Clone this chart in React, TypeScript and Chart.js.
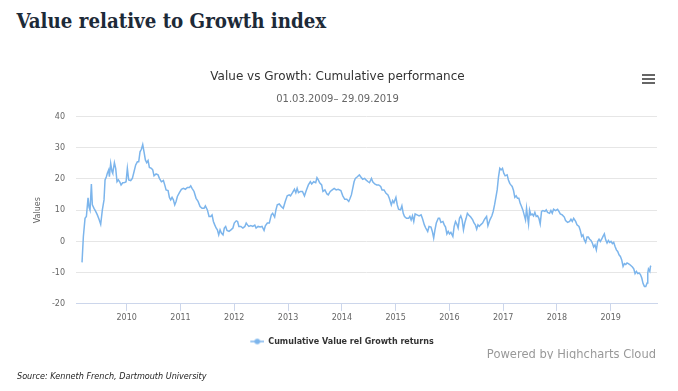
import React, { useEffect, useRef } from "react";
import { Chart, registerables } from "chart.js";

Chart.register(...registerables);

const pageTitle = "Value relative to Growth index";
const chartTitle = "Value vs Growth: Cumulative performance";
const chartSubtitle = "01.03.2009\u2013 29.09.2019";
const seriesName = "Cumulative Value rel Growth returns";
const axisTitle = "Values";
const sourceText = "Source: Kenneth French, Dartmouth University";
const creditText = "Powered by Highcharts Cloud";

const yearTicks = [2010, 2011, 2012, 2013, 2014, 2015, 2016, 2017, 2018, 2019];
const valueTicks = [-20, -10, 0, 10, 20, 30, 40];

const dates = [
  2009.169, 2009.194, 2009.225, 2009.25, 2009.281, 2009.299, 2009.318, 2009.343, 2009.361, 2009.392,
  2009.423, 2009.454, 2009.485, 2009.516, 2009.547, 2009.578, 2009.597, 2009.622, 2009.64, 2009.665,
  2009.678, 2009.702, 2009.727, 2009.74, 2009.771, 2009.795, 2009.82, 2009.845, 2009.87, 2009.895,
  2009.926, 2009.963, 2009.988, 2010.012, 2010.037, 2010.074, 2010.105, 2010.136, 2010.167, 2010.198,
  2010.223, 2010.248, 2010.273, 2010.298, 2010.322, 2010.347, 2010.372, 2010.397, 2010.422, 2010.459,
  2010.484, 2010.508, 2010.546, 2010.583, 2010.608, 2010.645, 2010.682, 2010.707, 2010.732, 2010.769,
  2010.794, 2010.818, 2010.843, 2010.868, 2010.893, 2010.918, 2010.942, 2010.98, 2011.017, 2011.054,
  2011.091, 2011.128, 2011.166, 2011.19, 2011.215, 2011.252, 2011.29, 2011.327, 2011.364, 2011.401,
  2011.438, 2011.463, 2011.5, 2011.531, 2011.562, 2011.587, 2011.612, 2011.637, 2011.662, 2011.686,
  2011.711, 2011.736, 2011.761,
  2011.791, 2011.815, 2011.84, 2011.865, 2011.902, 2011.938, 2011.975, 2012.0, 2012.037, 2012.062,
  2012.086, 2012.123, 2012.16, 2012.197, 2012.222, 2012.246, 2012.271, 2012.308, 2012.345, 2012.382,
  2012.406, 2012.443, 2012.48, 2012.517, 2012.554, 2012.578, 2012.615, 2012.652, 2012.689, 2012.714,
  2012.751, 2012.775, 2012.8, 2012.837, 2012.874, 2012.911, 2012.948, 2012.985, 2013.022, 2013.046,
  2013.083, 2013.12, 2013.145, 2013.169, 2013.194, 2013.231, 2013.268, 2013.305, 2013.342, 2013.378,
  2013.415, 2013.44, 2013.477, 2013.514, 2013.538, 2013.563, 2013.588, 2013.625, 2013.649, 2013.686,
  2013.723, 2013.748, 2013.785, 2013.822, 2013.858, 2013.895, 2013.932, 2013.982, 2014.018, 2014.055,
  2014.092, 2014.129, 2014.154, 2014.178, 2014.203, 2014.228, 2014.252, 2014.289, 2014.326, 2014.351,
  2014.388, 2014.425, 2014.449,
  2014.489, 2014.514, 2014.551, 2014.575, 2014.612, 2014.649, 2014.686, 2014.723, 2014.748, 2014.785,
  2014.822, 2014.858, 2014.883, 2014.92, 2014.945, 2014.969, 2015.006, 2015.031, 2015.055, 2015.092,
  2015.117, 2015.142, 2015.166, 2015.203, 2015.24, 2015.265, 2015.289, 2015.314, 2015.338, 2015.363,
  2015.4, 2015.437, 2015.474, 2015.498, 2015.535, 2015.56, 2015.597, 2015.622, 2015.658, 2015.683,
  2015.708, 2015.732, 2015.757, 2015.794, 2015.818, 2015.843, 2015.88, 2015.905, 2015.929, 2015.954,
  2015.978, 2016.003, 2016.028, 2016.065, 2016.089, 2016.114, 2016.138, 2016.163, 2016.188, 2016.212,
  2016.237, 2016.262, 2016.286, 2016.311, 2016.335, 2016.36, 2016.397, 2016.434, 2016.458, 2016.483,
  2016.508, 2016.532, 2016.557, 2016.582, 2016.618, 2016.655, 2016.692, 2016.717, 2016.754, 2016.791,
  2016.815, 2016.84, 2016.865, 2016.889, 2016.914, 2016.938, 2016.963, 2016.988, 2017.012, 2017.037,
  2017.074, 2017.098, 2017.123,
  2017.143, 2017.168, 2017.193, 2017.217, 2017.242, 2017.267, 2017.292, 2017.317, 2017.342, 2017.366,
  2017.391, 2017.416, 2017.435, 2017.453, 2017.472, 2017.491, 2017.516, 2017.54, 2017.565, 2017.59,
  2017.615, 2017.64, 2017.665, 2017.689, 2017.714, 2017.739, 2017.776, 2017.801, 2017.826, 2017.863,
  2017.888, 2017.913, 2017.938, 2017.975, 2018.012, 2018.037, 2018.062, 2018.099, 2018.137, 2018.161,
  2018.199, 2018.236, 2018.261, 2018.286, 2018.311, 2018.348, 2018.373, 2018.41, 2018.435, 2018.46,
  2018.484, 2018.509, 2018.534, 2018.559, 2018.584, 2018.609, 2018.634, 2018.658, 2018.683, 2018.708,
  2018.733, 2018.758, 2018.783, 2018.807, 2018.832, 2018.857, 2018.882, 2018.907, 2018.932, 2018.957,
  2018.981, 2019.006, 2019.031, 2019.056, 2019.081, 2019.106, 2019.13, 2019.155, 2019.18, 2019.205,
  2019.23, 2019.255, 2019.28, 2019.304, 2019.329, 2019.354, 2019.379, 2019.404, 2019.429, 2019.453,
  2019.478, 2019.503, 2019.528, 2019.553, 2019.578, 2019.602, 2019.627, 2019.652, 2019.677, 2019.689,
  2019.702, 2019.727, 2019.739, 2019.751,
];

const values = [
  -6.7, 1.6, 7.4, 8.0, 14.0, 11.0, 10.0, 18.4, 11.7, 10.6,
  9.6, 8.5, 7.1, 5.5, 10.1, 13.3, 19.7, 20.7, 21.8, 22.9,
  20.7, 25.0, 22.3, 21.8, 25.2, 23.4, 19.1, 19.7, 19.1, 18.1,
  18.8, 18.9, 19.1, 23.4, 19.7, 19.5, 20.2, 22.3, 24.5, 25.5,
  25.5, 28.7, 29.5, 31.0, 28.7, 26.1, 25.2, 25.9, 23.7, 23.4,
  22.9, 21.0, 21.6, 21.3, 20.2, 19.1, 19.5, 18.1, 16.5, 16.3,
  14.1, 13.3, 14.1, 13.3, 11.7, 12.8, 14.4, 15.6, 16.7, 17.0,
  16.7, 17.3, 17.3, 17.8, 17.0, 16.0, 13.8, 12.8, 11.2, 10.6,
  10.6, 11.4, 10.1, 8.0, 8.0, 8.5, 6.4, 5.3, 4.3, 3.7,
  2.1, 3.7, 2.7,
  2.1, 4.3, 4.8, 3.5, 3.2, 3.7, 4.3, 5.9, 6.6, 6.4,
  4.8, 4.8, 4.3, 4.8, 5.9, 5.3, 4.8, 5.1, 4.8, 5.2,
  4.3, 4.8, 4.6, 4.8, 3.5, 5.0, 5.9, 5.9, 8.5, 9.0,
  7.8, 10.1, 11.7, 12.0, 11.2, 10.6, 12.8, 14.6, 14.9, 14.6,
  15.6, 16.7, 15.6, 17.0, 15.6, 16.0, 16.0, 14.6, 16.5, 18.1,
  19.1, 18.4, 19.1, 18.8, 20.4, 19.7, 18.8, 18.1, 16.0, 16.5,
  15.2, 14.9, 16.0, 16.5, 17.0, 16.5, 16.7, 16.3, 14.6, 13.5,
  13.5, 12.8, 13.8, 14.9, 17.0, 19.1, 20.2, 20.7, 21.3, 20.7,
  19.9, 20.2, 19.7,
  19.1, 18.8, 20.2, 19.1, 18.4, 18.1, 18.1, 17.6, 16.5, 16.5,
  15.4, 14.9, 13.8, 11.7, 13.1, 12.4, 14.1, 11.7, 10.3, 10.1,
  11.4, 9.0, 8.0, 7.4, 7.4, 8.0, 6.9, 8.2, 6.4, 8.8,
  8.5, 8.2, 8.5, 7.4, 5.3, 4.3, 3.2, 4.8, 4.6, 3.2,
  1.1, 3.7, 5.9, 7.4, 7.4, 6.1, 6.4, 5.3, 4.6, 2.4,
  3.2, 2.4, 2.9, 1.6, 4.8, 6.4, 5.6, 4.3, 7.4, 8.2,
  6.9, 3.7, 5.9, 7.4, 9.0, 8.5, 7.8, 6.9, 5.9, 5.3,
  3.9, 5.3, 4.8, 5.3, 5.9, 7.1, 8.0, 5.0, 6.9, 8.2,
  9.6, 11.7, 14.1, 16.5, 20.7, 23.4, 22.9, 23.4, 21.8, 21.0,
  21.3, 19.7, 18.6,
  18.1, 17.6, 16.3, 14.1, 14.6, 13.8, 13.8, 12.2, 11.2, 10.1,
  8.5, 6.9, 10.6, 8.0, 5.6, 10.1, 8.5, 8.8, 8.2, 9.3,
  8.0, 8.2, 7.4, 5.6, 9.6, 9.9, 9.6, 10.1, 9.3, 9.0,
  9.9, 9.0, 10.3, 9.9, 10.3, 9.6, 8.8, 8.5, 7.8, 6.7,
  6.1, 6.4, 7.1, 6.4, 7.4, 6.4, 5.3, 4.8, 3.5, 1.6,
  2.1, 0.5, -0.3, 1.4, 1.4, 0.7, 0.3, -0.5, -1.8, -1.1,
  -2.7, 0.0, 0.7, 0.0, 0.7, 1.6, 2.4, 0.5, -0.5, 0.3,
  -0.3, 0.0, -0.7, -0.3, -1.6, -2.7, -3.2, -4.3, -4.8, -5.9,
  -8.0, -7.1, -7.4, -6.9, -7.1, -7.4, -7.8, -8.2, -8.8, -10.3,
  -9.6, -10.3, -10.1, -10.6, -11.7, -13.5, -14.4, -14.4, -13.3, -10.1,
  -8.8, -9.6, -8.0, -7.8,
];

const FONT = '"DejaVu Sans", Verdana, sans-serif';
const LINE_COLOR = "#7cb5ec";

function makeLegendMarker(): HTMLCanvasElement {
  const c = document.createElement("canvas");
  c.width = 23;
  c.height = 8;
  const ctx = c.getContext("2d")!;
  ctx.strokeStyle = LINE_COLOR;
  ctx.lineWidth = 1.5;
  ctx.beginPath();
  ctx.moveTo(9, 4);
  ctx.lineTo(23, 4);
  ctx.stroke();
  ctx.fillStyle = LINE_COLOR;
  ctx.beginPath();
  ctx.arc(16, 4, 2.8, 0, Math.PI * 2);
  ctx.fill();
  return c;
}

export default function App() {
  const canvasRef = useRef<HTMLCanvasElement | null>(null);

  useEffect(() => {
    if (!canvasRef.current) return;
    const marker = makeLegendMarker();
    const chart = new Chart(canvasRef.current, {
      type: "line",
      data: {
        datasets: [
          {
            label: seriesName,
            data: dates.map((d, i) => ({ x: d, y: values[i] })),
            borderColor: LINE_COLOR,
            backgroundColor: LINE_COLOR,
            borderWidth: 1.5,
            pointRadius: 0,
            pointHoverRadius: 0,
            fill: false,
            tension: 0,
          },
        ],
      },
      options: {
        animation: false,
        responsive: false,
        maintainAspectRatio: false,
        events: [],
        layout: { padding: { top: 0, left: 0, right: 3, bottom: 35.5 } },
        plugins: {
          title: {
            display: true,
            text: chartTitle,
            color: "#333333",
            font: { family: FONT, size: 12, weight: "normal" },
            padding: { top: 69.5, bottom: 0 },
          },
          subtitle: {
            display: true,
            text: chartSubtitle,
            color: "#666666",
            font: { family: FONT, size: 10, weight: "normal" },
            padding: { top: 9.4, bottom: 11.2 },
          },
          legend: {
            display: true,
            position: "bottom",
            labels: {
              usePointStyle: true,
              pointStyle: marker as any,
              pointStyleWidth: 23,
              color: "#333333",
              font: { family: FONT, size: 8, weight: "bold" },
              padding: 13,
            },
          },
          tooltip: { enabled: false },
        },
        scales: {
          x: {
            type: "linear",
            min: 2009.057,
            max: 2019.861,
            afterBuildTicks: (scale: any) => {
              scale.ticks = yearTicks.map((v) => ({ value: v }));
            },
            ticks: {
              color: "#666666",
              font: { family: FONT, size: 8 },
              padding: 2,
              maxRotation: 0,
              autoSkip: false,
              callback: (v: any) => String(v),
            },
            grid: {
              drawOnChartArea: false,
              drawTicks: true,
              tickLength: 7,
              color: "#ccd6eb",
            },
            border: { display: true, color: "#ccd6eb", width: 1 },
          },
          y: {
            type: "linear",
            position: "left",
            min: -20,
            max: 40,
            afterBuildTicks: (scale: any) => {
              scale.ticks = valueTicks.map((v) => ({ value: v }));
            },
            afterFit: (scale: any) => {
              scale.width = 76;
            },
            ticks: {
              color: "#666666",
              font: { family: FONT, size: 8 },
              padding: 11,
              callback: (v: any) => String(v),
            },
            grid: { color: "#e6e6e6", drawTicks: false },
            border: { display: false },
            title: {
              display: true,
              text: axisTitle,
              color: "#666666",
              font: { family: FONT, size: 8 },
              padding: { top: 33, bottom: 0 },
            },
          },
          yRight: {
            type: "linear",
            position: "right",
            display: true,
            ticks: { display: false },
            grid: { display: false },
            border: { display: false },
            afterFit: (scale: any) => {
              scale.width = 18;
            },
          },
        },
      },
    });
    return () => chart.destroy();
  }, []);

  return (
    <div
      style={{
        position: "absolute",
        left: 0,
        top: 0,
        width: 678,
        height: 391,
        background: "#ffffff",
        overflow: "hidden",
      }}
    >
      <div
        style={{
          position: "absolute",
          left: 16.5,
          top: 11.2,
          fontFamily: '"DejaVu Serif Condensed", "DejaVu Serif", serif',
          fontStretch: "condensed",
          fontWeight: "bold",
          fontSize: 20.3,
          lineHeight: 1,
          color: "#1d2a38",
          whiteSpace: "nowrap",
        }}
      >
        {pageTitle}
      </div>
      <canvas
        ref={canvasRef}
        width={678}
        height={391}
        style={{ position: "absolute", left: 0, top: 0, width: 678, height: 391 }}
      />
      {[75, 79, 83].map((y) => (
        <div
          key={y}
          style={{
            position: "absolute",
            left: 642,
            top: y - 0.8,
            width: 13,
            height: 1.6,
            background: "#666666",
          }}
        />
      ))}
      <div
        style={{
          position: "absolute",
          right: 22,
          top: 349.3,
          height: 9.5,
          overflow: "hidden",
          fontFamily: FONT,
          fontSize: 11.5,
          lineHeight: 1,
          color: "#999999",
          whiteSpace: "nowrap",
        }}
      >
        {creditText}
      </div>
      <div
        style={{
          position: "absolute",
          left: 17,
          top: 372,
          fontFamily: FONT,
          fontStyle: "italic",
          fontSize: 8.1,
          lineHeight: 1,
          color: "#222222",
          whiteSpace: "nowrap",
        }}
      >
        {sourceText}
      </div>
    </div>
  );
}
